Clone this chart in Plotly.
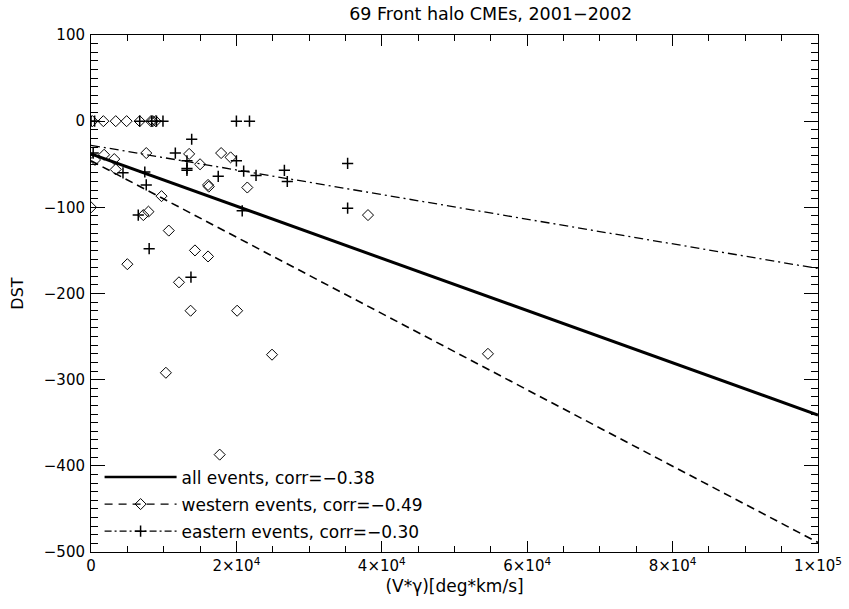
import plotly.graph_objects as go

# ---------------- data ----------------
# western events (diamonds): velocity*gamma [deg*km/s], DST
west_x = [200, 1700, 3400, 4900, 6700, 8250, 8500, 8900,
          550, 1800, 3200, 3400, 7600, 13500, 15000, 17900, 19200,
          16100, 16200, 21500, 9700, 0, 7900, 7200, 10700, 14300,
          16100, 5000, 12100, 13700, 20100, 24900, 10300, 17700,
          38100, 54600]
west_y = [0, 0, 0, 0, 0, 0, 0, 0,
          -45, -39, -44, -56, -37, -38, -50, -37, -42,
          -74, -76, -77, -87, -100, -105, -109, -127, -150,
          -157, -166, -187, -220, -220, -271, -292, -387,
          -109, -270]

# eastern events (crosses)
east_x = [0, 500, 6700, 8350, 9000, 9900, 20000, 21800,
          300, 13850, 11600, 13200, 13200, 13200, 20000, 21000,
          22700, 26600, 27000, 17500, 7600, 7400, 4400, 20800,
          6500, 8000, 13750, 35300, 35300]
east_y = [0, 0, 0, 0, 0, 0, 0, 0,
          -37, -21, -37, -46, -55, -57, -46, -58,
          -63, -57, -70, -64, -74, -59, -60, -104,
          -109, -148, -181, -49, -101]

# linear fits (end points at x = 0 and x = 1e5)
fit_x = [0, 100000]
fit_all = [-38, -341]
fit_west = [-46, -489]
fit_east = [-28, -171]

x_tickvals = [0, 20000, 40000, 60000, 80000, 100000]
x_ticktext = ["0", "2×10<sup>4</sup>", "4×10<sup>4</sup>", "6×10<sup>4</sup>",
              "8×10<sup>4</sup>", "1×10<sup>5</sup>"]
y_tickvals = [100, 0, -100, -200, -300, -400, -500]

legend_names = ["all events, corr=−0.38",
                "western events, corr=−0.49",
                "eastern events, corr=−0.30"]

# ---------------- figure ----------------
FONT = "DejaVu Sans"
fig = go.Figure()

# scatter points
fig.add_trace(go.Scatter(x=west_x, y=west_y, mode="markers", showlegend=False,
                         marker=dict(symbol="diamond-open", size=8.5, color="black",
                                     line=dict(width=1, color="black"))))
fig.add_trace(go.Scatter(x=east_x, y=east_y, mode="markers", showlegend=False,
                         marker=dict(symbol="cross-thin-open", size=8, color="black",
                                     line=dict(width=1.5, color="black"))))

# fit lines
fig.add_trace(go.Scatter(x=fit_x, y=fit_all, mode="lines", showlegend=False,
                         line=dict(color="black", width=3)))
fig.add_trace(go.Scatter(x=fit_x, y=fit_west, mode="lines", showlegend=False,
                         line=dict(color="black", width=1.6, dash="8px,5px")))
fig.add_trace(go.Scatter(x=fit_x, y=fit_east, mode="lines", showlegend=False,
                         line=dict(color="black", width=1.3, dash="9px,4px,2px,4px")))

# legend entries
fig.add_trace(go.Scatter(x=[None], y=[None], mode="lines", name=legend_names[0],
                         legendgroup="a",
                         line=dict(color="black", width=2.5)))
fig.add_trace(go.Scatter(x=[None], y=[None], mode="lines+markers", name=legend_names[1],
                         legendgroup="w",
                         line=dict(color="black", width=1.3, dash="8px,6px"),
                         marker=dict(symbol="diamond-open", size=8.5, color="black",
                                     line=dict(width=1, color="black"))))
fig.add_trace(go.Scatter(x=[None], y=[None], mode="lines+markers", name=legend_names[2],
                         legendgroup="e",
                         line=dict(color="black", width=1.3, dash="7px,3px,2px,3px"),
                         marker=dict(symbol="cross-thin-open", size=8, color="black",
                                     line=dict(width=1.5, color="black"))))

axis_common = dict(showline=True, linecolor="black", linewidth=1, mirror="ticks",
                   ticks="inside", tickcolor="black", showgrid=False, zeroline=False,
                   automargin=False,
                   tickfont=dict(family=FONT, size=15, color="black"))

fig.update_layout(
    width=849, height=609,
    margin=dict(l=91, r=31, t=35, b=57),
    paper_bgcolor="white", plot_bgcolor="white",
    font=dict(family=FONT, color="black"),
    title=dict(text="69 Front halo CMEs, 2001−2002", x=0.578, xanchor="center",
               y=0.978, yanchor="middle", yref="container",
               font=dict(family=FONT, size=17.5, color="black")),
    xaxis=dict(range=[0, 100000], tickvals=x_tickvals, ticktext=x_ticktext,
               ticklen=11, tickwidth=1,
               minor=dict(dtick=5000, tick0=0, ticks="inside", ticklen=6,
                          tickcolor="black", tickwidth=1),
               title=dict(text="(V*γ)[deg*km/s]", standoff=6,
                          font=dict(family=FONT, size=17, color="black")),
               **axis_common),
    yaxis=dict(range=[-500, 100], tickvals=y_tickvals, ticklen=14, tickwidth=1,
               ticklabelstandoff=2,
               minor=dict(dtick=10, tick0=0, ticks="inside", ticklen=7,
                          tickcolor="black", tickwidth=1),
               title=dict(text="DST", standoff=16,
                          font=dict(family=FONT, size=16, color="black")),
               **axis_common),
    legend=dict(x=0.0118, y=0.005, xanchor="left", yanchor="bottom",
                bgcolor="rgba(0,0,0,0)", borderwidth=0, itemwidth=72,
                tracegroupgap=2,
                font=dict(family=FONT, size=17, color="black")),
)

fig.write_html("out.html")
